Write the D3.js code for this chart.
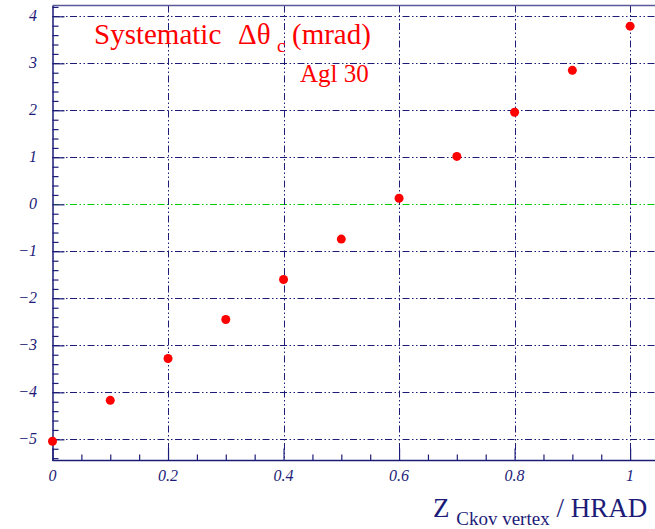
<!DOCTYPE html>
<html><head><meta charset="utf-8">
<script src="https://cdn.jsdelivr.net/npm/d3@7"></script>
<style>body{margin:0;background:#fff}svg{display:block}</style>
</head><body>
<script>
const xValues = [0, 0.1, 0.2, 0.3, 0.4, 0.5, 0.6, 0.7, 0.8, 0.9, 1.0];
const yValues = [-5.04, -4.17, -3.28, -2.45, -1.60, -0.74, 0.13, 1.02, 1.96, 2.85, 3.79];
const xTicks = [0, 0.2, 0.4, 0.6, 0.8, 1];
const yTicks = [-5, -4, -3, -2, -1, 0, 1, 2, 3, 4];

const W = 655, H = 529;
const navy = "#1c1c78";
const svg = d3.select("body").append("svg").attr("width", W).attr("height", H);

const x = d3.scaleLinear().domain([0, 1.05]).range([52.5, 659]);
const y = d3.scaleLinear().domain([-5.45, 4.23]).range([460.5, 5.5]);

const dash = "7,2.5,1.5,2.5,1.5,2.5";
svg.append("g").selectAll("line").data(yTicks).join("line")
  .attr("x1", x(0)).attr("x2", W)
  .attr("y1", d => Math.round(y(d)) + 0.5).attr("y2", d => Math.round(y(d)) + 0.5)
  .attr("stroke", d => d === 0 ? "#00cc00" : navy)
  .attr("stroke-width", 1).attr("stroke-dasharray", dash);
svg.append("g").selectAll("line").data(xTicks.filter(d => d > 0)).join("line")
  .attr("x1", d => Math.round(x(d)) + 0.5).attr("x2", d => Math.round(x(d)) + 0.5)
  .attr("y1", y.range()[1]).attr("y2", y.range()[0])
  .attr("stroke", navy).attr("stroke-width", 1).attr("stroke-dasharray", dash);

svg.append("line").attr("x1", x(0)).attr("x2", W).attr("y1", 5.5).attr("y2", 5.5)
  .attr("stroke", "#5a5a9a").attr("stroke-width", 1.5);

const fmtX = d => d === 0 ? "0" : d === 1 ? "1" : d3.format(".1f")(d);
const xAxis = d3.axisBottom(x).tickValues(d3.range(0, 1.0501, 0.05))
  .tickSizeInner(-6).tickSizeOuter(0).tickFormat("");
const gx = svg.append("g").attr("transform", `translate(0,${y.range()[0]})`).call(xAxis);
gx.select(".domain").attr("stroke", navy).attr("stroke-width", 1.5).attr("d", `M${x(0)},0H${W}`);
gx.selectAll(".tick line").attr("stroke", navy).attr("stroke-width", 1.2)
  .attr("y2", d => xTicks.some(t => Math.abs(t - d) < 1e-6) ? -12 : -6);

svg.append("g").selectAll("text").data(xTicks).join("text")
  .attr("x", d => x(d)).attr("y", 481)
  .attr("text-anchor", "middle")
  .attr("font-family", "Liberation Serif, serif").attr("font-style", "italic")
  .attr("font-size", 16).attr("fill", navy).text(fmtX);

const yMinor = d3.range(-5.4, 4.2001, 0.2).map(v => Math.round(v * 10) / 10);
const yAxis = d3.axisLeft(y).tickValues(yMinor).tickSizeInner(-6).tickSizeOuter(0).tickFormat("");
const gy = svg.append("g").attr("transform", `translate(${x(0)},0)`).call(yAxis);
gy.select(".domain").attr("stroke", navy).attr("stroke-width", 1.5);
gy.selectAll(".tick line").attr("stroke", navy).attr("stroke-width", 1.2)
  .attr("x2", d => Number.isInteger(d) ? 12 : 6);

svg.append("g").selectAll("text").data(yTicks).join("text")
  .attr("x", 37).attr("y", d => y(d) + 5)
  .attr("text-anchor", "end")
  .attr("font-family", "Liberation Serif, serif").attr("font-style", "italic")
  .attr("font-size", 16).attr("fill", navy)
  .text(d => d < 0 ? "\u2212" + Math.abs(d) : String(d));

svg.append("g").selectAll("circle").data(xValues).join("circle")
  .attr("cx", d => x(d)).attr("cy", (d, i) => y(yValues[i]))
  .attr("r", 4.5).attr("fill", "#ff0000");

// title
const tf = {"font-family": "Liberation Serif, serif", "fill": "#ff0000"};
function txt(s, xx, yy, fs) {
  const e = svg.append("text").attr("x", xx).attr("y", yy).attr("font-size", fs).text(s);
  Object.entries(tf).forEach(([k, v]) => e.attr(k, v));
  return e;
}
txt("Systematic", 94, 44, 29);
txt("\u0394\u03b8", 238, 44, 29);
txt("c", 277, 52, 19);
txt("(mrad)", 292, 44, 29);
txt("Agl 30", 300, 82, 25);

const at = svg.append("text").attr("x", 433).attr("y", 517)
  .attr("font-family", "Liberation Serif, serif").attr("font-size", 27).attr("fill", navy);
at.append("tspan").text("Z ");
at.append("tspan").attr("font-size", 19).attr("dy", 8).text("Ckov vertex");
at.append("tspan").attr("dy", -8).text("  / HRAD");
</script>
</body></html>
